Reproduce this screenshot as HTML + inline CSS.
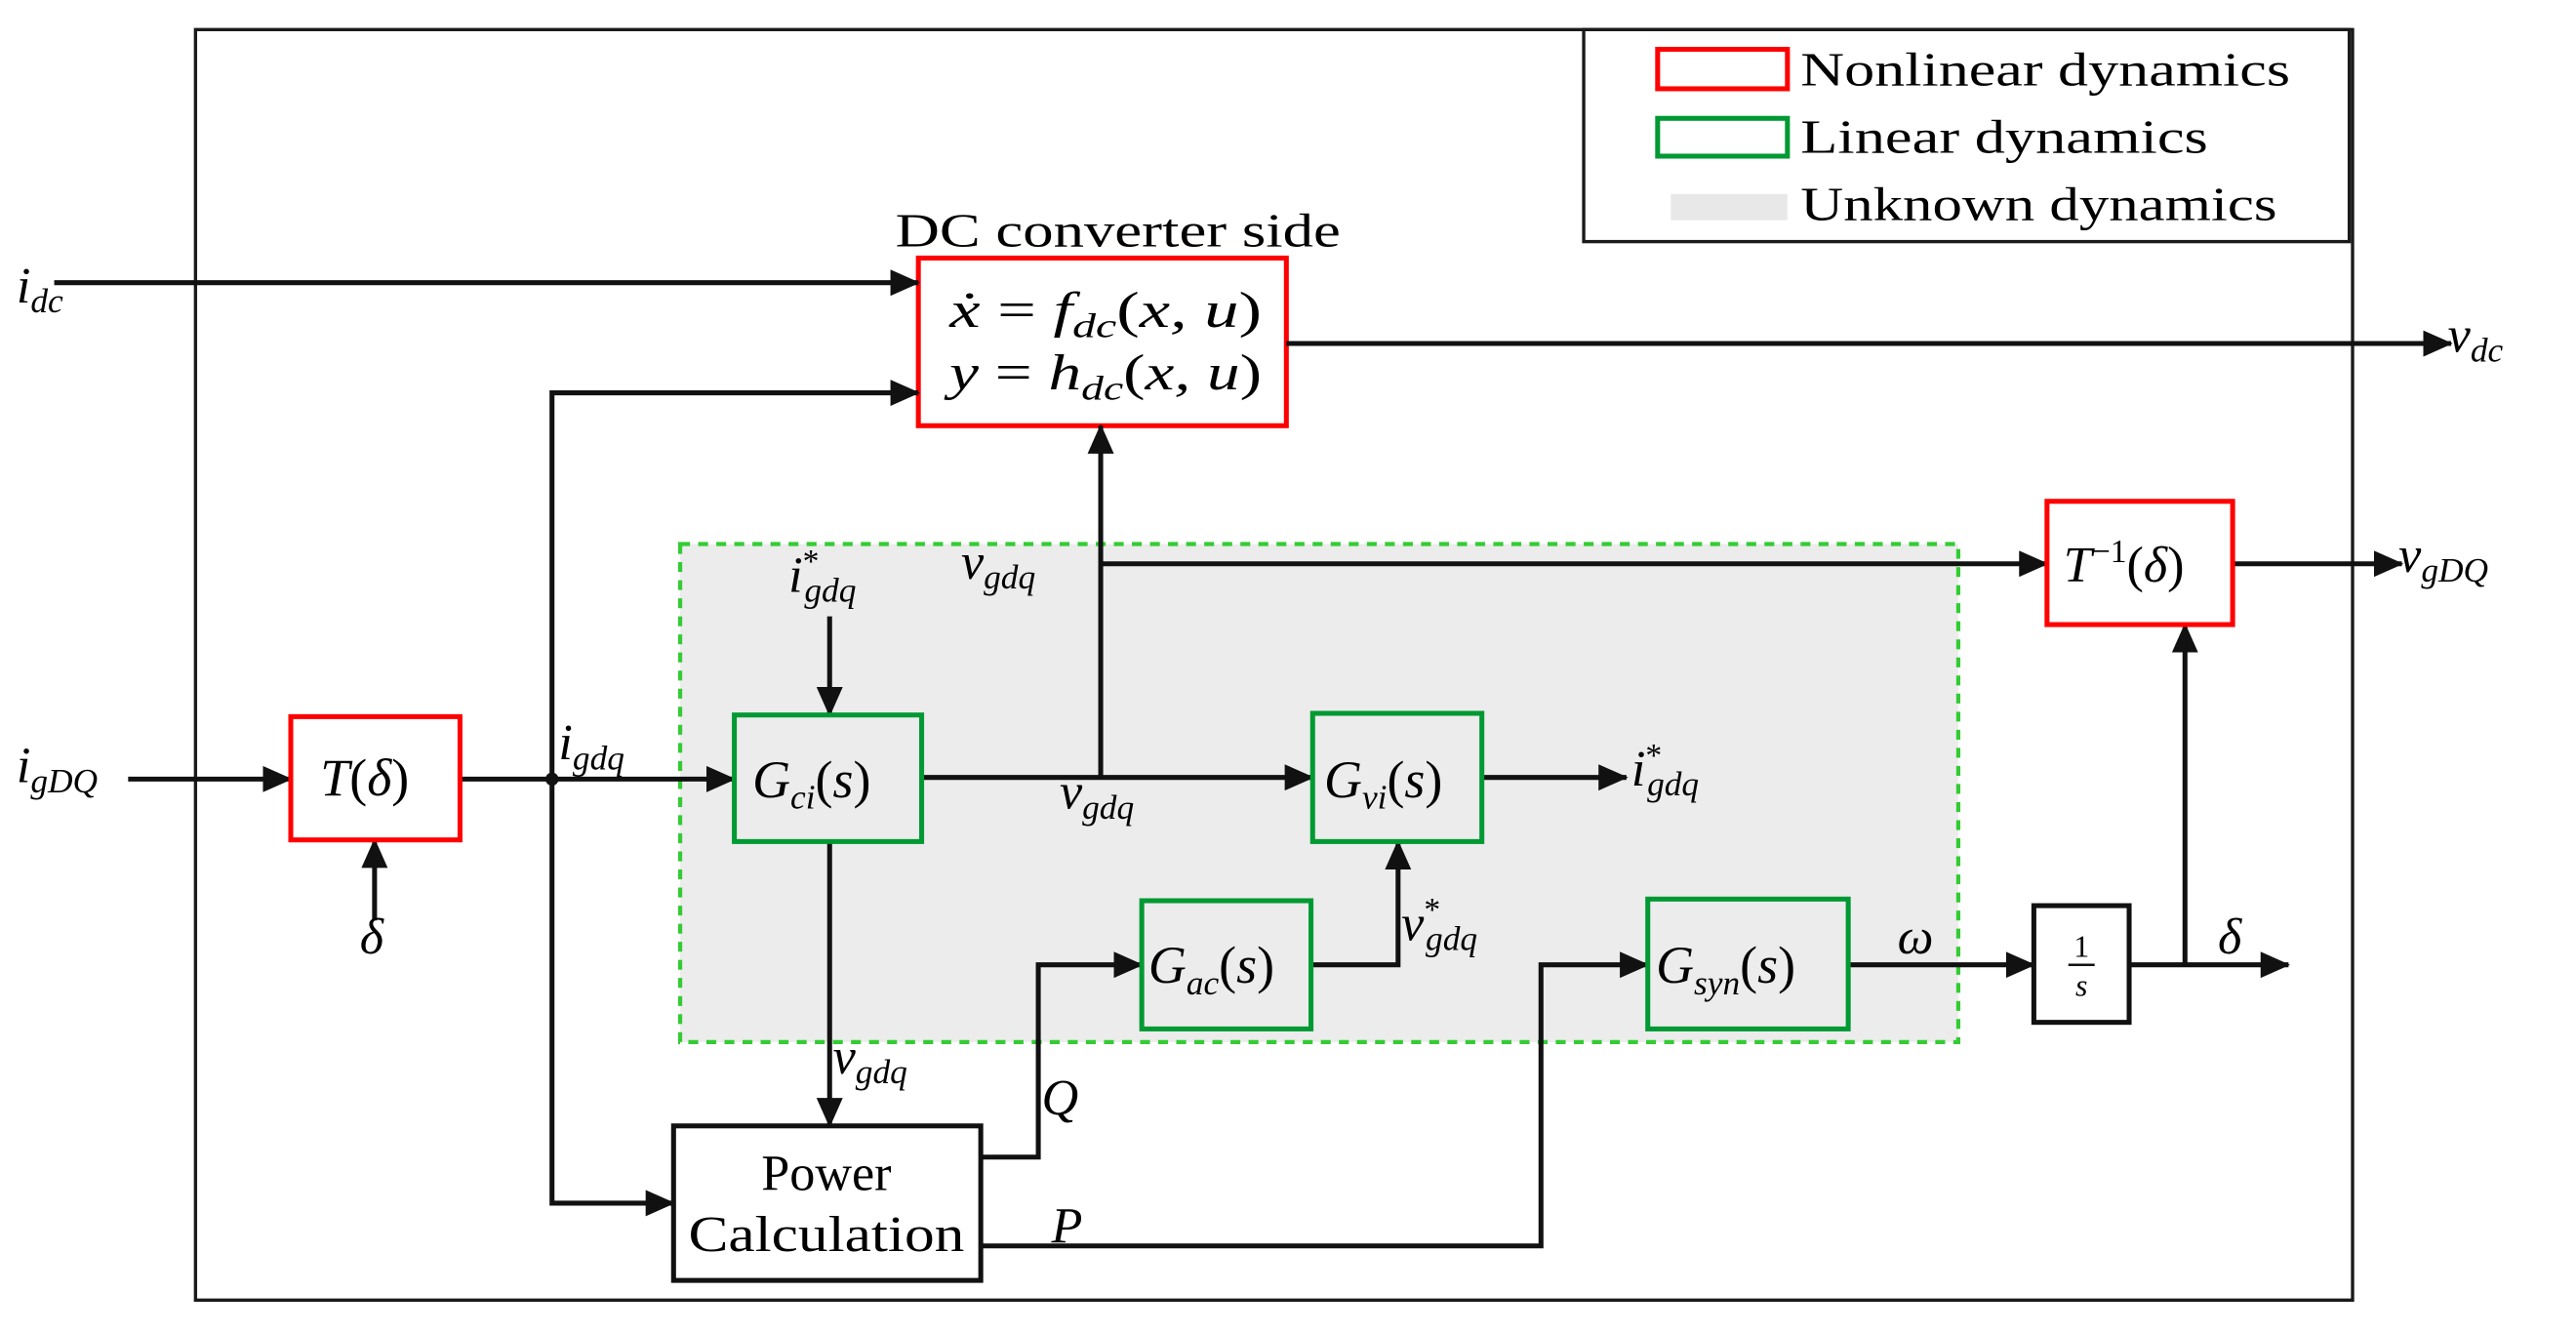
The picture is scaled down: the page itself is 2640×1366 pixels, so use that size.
<!DOCTYPE html>
<html><head><meta charset="utf-8"><style>
html,body{margin:0;padding:0;background:#fff;}
svg{display:block;}
text{font-family:"Liberation Serif",serif;fill:#000;}
.m{font-style:italic;}
</style></head><body>
<svg width="2640" height="1366" viewBox="0 0 1568 811" preserveAspectRatio="none" xmlns="http://www.w3.org/2000/svg">
<defs>
<marker id="a" markerWidth="18" markerHeight="16" refX="17" refY="8" orient="auto" markerUnits="userSpaceOnUse">
<path d="M0,0 L18,8 L0,16 Z" fill="#111"/>
</marker>
</defs>
<rect x="119" y="18" width="1313" height="773" fill="none" stroke="#1a1a1a" stroke-width="2"/>
<rect x="964" y="18" width="466" height="129" fill="#fff" stroke="#1a1a1a" stroke-width="2"/>
<rect x="1009" y="30" width="79" height="24" fill="none" stroke="#f00" stroke-width="3"/>
<rect x="1009" y="72" width="79" height="23" fill="none" stroke="#093" stroke-width="3"/>
<rect x="1017" y="118" width="71" height="16" fill="#e8e8e8"/>
<text x="1096" y="52" font-size="29" textLength="298" lengthAdjust="spacingAndGlyphs">Nonlinear dynamics</text>
<text x="1096" y="93" font-size="29" textLength="248" lengthAdjust="spacingAndGlyphs">Linear dynamics</text>
<text x="1096" y="134" font-size="29" textLength="290" lengthAdjust="spacingAndGlyphs">Unknown dynamics</text>

<rect x="414" y="331" width="778" height="303" fill="#ececec" stroke="#33cc33" stroke-width="2.5" stroke-dasharray="6,5"/>

<text x="545" y="150" font-size="29" textLength="271" lengthAdjust="spacingAndGlyphs">DC converter side</text>
<rect x="559" y="157" width="224" height="102" fill="#fff" stroke="#f00" stroke-width="3"/>
<text x="578" y="199" font-size="31" class="m" textLength="190" lengthAdjust="spacingAndGlyphs">ẋ <tspan font-style="normal">=</tspan> f<tspan font-size="21" dy="6">dc</tspan><tspan dy="-6" font-style="normal">(</tspan>x, u<tspan font-style="normal">)</tspan></text>
<text x="578" y="237" font-size="31" class="m" textLength="190" lengthAdjust="spacingAndGlyphs">y <tspan font-style="normal">=</tspan> h<tspan font-size="21" dy="6">dc</tspan><tspan dy="-6" font-style="normal">(</tspan>x, u<tspan font-style="normal">)</tspan></text>

<g stroke="#111" stroke-width="3" fill="none">
<line x1="33" y1="172" x2="559" y2="172" marker-end="url(#a)"/>
<line x1="783" y1="209" x2="1492" y2="209" marker-end="url(#a)"/>
<polyline points="336,474 336,239 559,239" marker-end="url(#a)"/>
<polyline points="336,474 336,732 410,732" marker-end="url(#a)"/>
<line x1="670" y1="473" x2="670" y2="259" marker-end="url(#a)"/>
<line x1="670" y1="343" x2="1246" y2="343" marker-end="url(#a)"/>
<line x1="1359" y1="343" x2="1462" y2="343" marker-end="url(#a)"/>
<line x1="505" y1="375" x2="505" y2="435" marker-end="url(#a)"/>
<line x1="78" y1="474" x2="177" y2="474" marker-end="url(#a)"/>
<line x1="228" y1="560" x2="228" y2="511" marker-end="url(#a)"/>
<line x1="280" y1="474" x2="447" y2="474" marker-end="url(#a)"/>
<line x1="561" y1="473" x2="799" y2="473" marker-end="url(#a)"/>
<line x1="902" y1="473" x2="990" y2="473" marker-end="url(#a)"/>
<line x1="505" y1="512" x2="505" y2="685" marker-end="url(#a)"/>
<polyline points="597,704 632,704 632,587 695,587" marker-end="url(#a)"/>
<polyline points="798,587 851,587 851,512" marker-end="url(#a)"/>
<polyline points="597,758 938,758 938,587 1003,587" marker-end="url(#a)"/>
<line x1="1125" y1="587" x2="1238" y2="587" marker-end="url(#a)"/>
<line x1="1296" y1="587" x2="1393" y2="587" marker-end="url(#a)"/>
<line x1="1330" y1="587" x2="1330" y2="380" marker-end="url(#a)"/>
</g>
<circle cx="336" cy="474" r="4" fill="#111"/>

<rect x="1246" y="305" width="113" height="75" fill="#fff" stroke="#f00" stroke-width="3"/>
<text x="1256" y="354" font-size="31" class="m">T<tspan font-size="20" dy="-12" font-style="normal">−1</tspan><tspan dy="12" font-style="normal">(</tspan>δ<tspan font-style="normal">)</tspan></text>
<rect x="177" y="436" width="103" height="75" fill="#fff" stroke="#f00" stroke-width="3"/>
<text x="195" y="484" font-size="32" class="m">T<tspan font-style="normal">(</tspan>δ<tspan font-style="normal">)</tspan></text>

<rect x="447" y="435" width="114" height="77" fill="#ececec" stroke="#093" stroke-width="3"/>
<text x="458" y="485" font-size="32" class="m">G<tspan font-size="21" dy="7">ci</tspan><tspan dy="-7" font-style="normal">(</tspan>s<tspan font-style="normal">)</tspan></text>
<rect x="799" y="434" width="103" height="78" fill="#ececec" stroke="#093" stroke-width="3"/>
<text x="806" y="485" font-size="32" class="m">G<tspan font-size="21" dy="7">vi</tspan><tspan dy="-7" font-style="normal">(</tspan>s<tspan font-style="normal">)</tspan></text>
<rect x="695" y="548" width="103" height="78" fill="#ececec" stroke="#093" stroke-width="3"/>
<text x="699" y="598" font-size="32" class="m">G<tspan font-size="21" dy="7">ac</tspan><tspan dy="-7" font-style="normal">(</tspan>s<tspan font-style="normal">)</tspan></text>
<rect x="1003" y="547" width="122" height="79" fill="#ececec" stroke="#093" stroke-width="3"/>
<text x="1008" y="598" font-size="32" class="m">G<tspan font-size="21" dy="7">syn</tspan><tspan dy="-7" font-style="normal">(</tspan>s<tspan font-style="normal">)</tspan></text>

<rect x="1238" y="551" width="58" height="71" fill="#fff" stroke="#111" stroke-width="3"/>
<text x="1267" y="582" font-size="19" text-anchor="middle">1</text>
<line x1="1259" y1="587" x2="1275" y2="587" stroke="#111" stroke-width="1.5"/>
<text x="1267" y="606" font-size="19" text-anchor="middle" class="m">s</text>

<rect x="410" y="685" width="187" height="94" fill="#fff" stroke="#111" stroke-width="3"/>
<text x="503" y="724" font-size="31" text-anchor="middle">Power</text>
<text x="503" y="761" font-size="31" text-anchor="middle" textLength="168" lengthAdjust="spacingAndGlyphs">Calculation</text>

<g font-size="31" class="m">
<text x="10" y="184">i<tspan font-size="21" dy="6">dc</tspan></text>
<text x="1490" y="214">v<tspan font-size="21" dy="6">dc</tspan></text>
<text x="1460" y="348">v<tspan font-size="21" dy="6">gDQ</tspan></text>
<text x="10" y="476">i<tspan font-size="21" dy="6">gDQ</tspan></text>
<text x="219" y="580">δ</text>
<text x="340" y="462">i<tspan font-size="21" dy="6">gdq</tspan></text>
<text x="585" y="352">v<tspan font-size="21" dy="6">gdq</tspan></text>
<text x="480" y="360">i<tspan font-size="20" dy="-12" font-style="normal">*</tspan><tspan font-size="21" dx="-9" dy="18">gdq</tspan></text>
<text x="645" y="492">v<tspan font-size="21" dy="6">gdq</tspan></text>
<text x="993" y="478">i<tspan font-size="20" dy="-12" font-style="normal">*</tspan><tspan font-size="21" dx="-9" dy="18">gdq</tspan></text>
<text x="507" y="653">v<tspan font-size="21" dy="6">gdq</tspan></text>
<text x="853" y="572">v<tspan font-size="20" dy="-12" font-style="normal">*</tspan><tspan font-size="21" dx="-9" dy="18">gdq</tspan></text>
<text x="634" y="678">Q</text>
<text x="640" y="756">P</text>
<text x="1155" y="580">ω</text>
<text x="1350" y="580">δ</text>
</g>
</svg>
</body></html>
